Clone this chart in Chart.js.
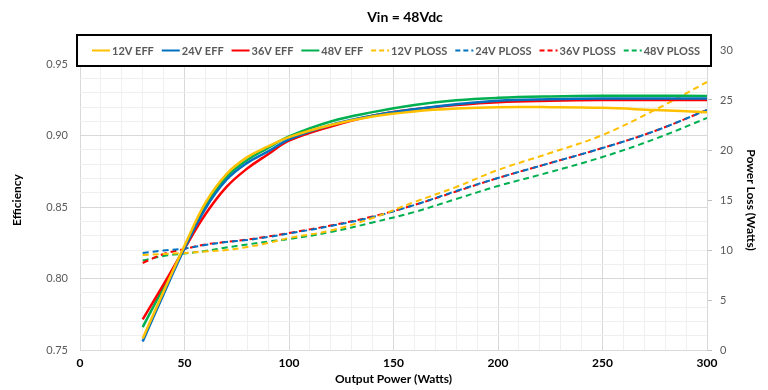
<!DOCTYPE html>
<html>
<head>
<meta charset="utf-8">
<script src="https://cdn.jsdelivr.net/npm/chart.js@4"></script>
<style>
  body { margin: 0; background: #fff; }
  canvas { display: block; }
</style>
</head>
<body>
<canvas id="effChart" width="768" height="390"></canvas>
<script>
// Output power (W) sample points
const outputPower = [30, 40, 50, 60, 70, 80, 90, 100, 120, 140, 160, 180, 200, 225, 250, 275, 300];

// Efficiency (left axis)
const eff12 = [0.758, 0.791, 0.823, 0.853, 0.873, 0.885, 0.8925, 0.899, 0.9075, 0.9135, 0.917, 0.919, 0.920, 0.920, 0.9195, 0.918, 0.9165];
const eff24 = [0.756, 0.789, 0.821, 0.849, 0.869, 0.881, 0.889, 0.8975, 0.9075, 0.914, 0.9185, 0.922, 0.9245, 0.9255, 0.926, 0.926, 0.926];
const eff36 = [0.7715, 0.796, 0.821, 0.845, 0.864, 0.877, 0.887, 0.8965, 0.9065, 0.914, 0.9185, 0.9215, 0.9235, 0.9245, 0.925, 0.925, 0.925];
const eff48 = [0.766, 0.794, 0.822, 0.851, 0.871, 0.883, 0.8915, 0.8995, 0.910, 0.9165, 0.9215, 0.9248, 0.9265, 0.9275, 0.928, 0.928, 0.9278];

// Power loss in watts (right axis)
const ploss12 = [9.5, 9.6, 9.7, 9.85, 10.0, 10.3, 10.7, 11.2, 11.95, 13.2, 14.8, 16.3, 18.0, 19.7, 21.5, 24.0, 26.8];
const ploss24 = [9.7, 9.95, 10.15, 10.5, 10.8, 11.0, 11.3, 11.65, 12.4, 13.3, 14.5, 15.9, 17.2, 18.7, 20.2, 21.9, 24.0];
const ploss36 = [8.7, 9.6, 10.1, 10.55, 10.8, 11.05, 11.35, 11.7, 12.45, 13.35, 14.5, 15.85, 17.2, 18.7, 20.2, 21.9, 24.0];
const ploss48 = [8.95, 9.4, 9.65, 9.9, 10.25, 10.55, 10.85, 11.1, 11.8, 12.75, 13.8, 15.1, 16.4, 17.8, 19.3, 21.1, 23.2];

const seriesColors = ['#FFC000', '#0070C0', '#FF0000', '#00B050'];
const fontName = 'Lato, "Open Sans", sans-serif';

const toPoints = arr => arr.map((v, i) => ({ x: outputPower[i], y: v }));

function effSet(label, data, color) {
  return {
    label, data: toPoints(data), yAxisID: 'yEff',
    borderColor: color, borderWidth: 2.5, pointRadius: 0,
    tension: 0.4, fill: false
  };
}
function lossSet(label, data, color) {
  return {
    label, data: toPoints(data), yAxisID: 'yLoss',
    borderColor: color, borderWidth: 2, borderDash: [6, 4], pointRadius: 0,
    tension: 0.4, fill: false
  };
}

const datasets = [
  effSet('12V EFF', eff12, seriesColors[0]),
  effSet('24V EFF', eff24, seriesColors[1]),
  effSet('36V EFF', eff36, seriesColors[2]),
  effSet('48V EFF', eff48, seriesColors[3]),
  lossSet('12V PLOSS', ploss12, seriesColors[0]),
  lossSet('24V PLOSS', ploss24, seriesColors[1]),
  lossSet('36V PLOSS', ploss36, seriesColors[2]),
  lossSet('48V PLOSS', ploss48, seriesColors[3])
];

// title + boxed legend drawn over the top of the plot, like the Excel original
const overlayPlugin = {
  id: 'overlay',
  afterDraw(chart) {
    const ctx = chart.ctx;
    ctx.save();
    ctx.fillStyle = '#000';
    ctx.font = 'bold 14px ' + fontName;
    ctx.textAlign = 'center';
    ctx.textBaseline = 'middle';
    ctx.fillText('Vin = 48Vdc', 405, 17);

    const box = { x: 77, y: 35, w: 634, h: 31 };
    ctx.fillStyle = '#fff';
    ctx.fillRect(box.x, box.y, box.w, box.h);
    ctx.strokeStyle = '#000';
    ctx.lineWidth = 2;
    ctx.strokeRect(box.x, box.y, box.w, box.h);

    ctx.font = 'bold 11px ' + fontName;
    ctx.textAlign = 'left';
    const sample = 18, gap = 2;
    const items = chart.data.datasets.map(d => ({
      d, w: sample + gap + ctx.measureText(d.label).width
    }));
    const left = 92, right = 700;
    const total = items.reduce((s, it) => s + it.w, 0);
    const space = (right - left - total) / (items.length - 1);
    let x = left;
    const cy = box.y + box.h / 2;
    items.forEach(it => {
      ctx.strokeStyle = it.d.borderColor;
      ctx.lineWidth = 2;
      ctx.setLineDash(it.d.borderDash ? [5, 3] : []);
      ctx.beginPath();
      ctx.moveTo(x, cy);
      ctx.lineTo(x + sample, cy);
      ctx.stroke();
      ctx.setLineDash([]);
      ctx.fillStyle = '#595959';
      ctx.fillText(it.d.label, x + sample + gap, cy + 1);
      x += it.w + space;
    });
    ctx.restore();
  }
};

const isMajorEff = v => Math.round(v * 100) % 5 === 0;

new Chart(document.getElementById('effChart'), {
  type: 'line',
  data: { datasets },
  options: {
    responsive: false,
    animation: false,
    layout: { padding: { top: 50, left: 0, right: 0, bottom: 0 } },
    plugins: { legend: { display: false }, title: { display: false }, tooltip: { enabled: false } },
    scales: {
      x: {
        type: 'linear', min: 0, max: 300,
        afterFit(scale) { scale.height = 40; },
        ticks: {
          stepSize: 10, autoSkip: false, maxRotation: 0, padding: 6,
          color: '#000', font: { family: fontName, size: 12, weight: 'bold' },
          callback: v => (v % 50 === 0 ? v : '')
        },
        grid: {
          drawTicks: false,
          color: c => (c.tick && c.tick.value % 50 === 0 ? '#d9d9d9' : '#f0f0f0')
        },
        border: { display: false },
        title: {
          display: true, text: 'Output Power (Watts)', color: '#000',
          font: { family: fontName, size: 12, weight: 'bold' }, padding: { top: 0, bottom: 4 }
        }
      },
      yEff: {
        type: 'linear', position: 'left', min: 0.75, max: 0.96,
        afterFit(scale) { scale.width = 80; },
        ticks: {
          stepSize: 0.01, autoSkip: false, padding: 12,
          color: '#595959', font: { family: fontName, size: 11 },
          callback: v => (isMajorEff(v) ? v.toFixed(2) : '')
        },
        grid: {
          drawTicks: false,
          color: c => (c.tick && isMajorEff(c.tick.value) ? '#d9d9d9' : '#efefef')
        },
        border: { display: false },
        title: {
          display: true, text: 'Efficiency', color: '#000',
          font: { family: fontName, size: 12, weight: 'bold' }, padding: { top: 10, bottom: 0 }
        }
      },
      yLoss: {
        type: 'linear', position: 'right', min: 0, max: 30,
        afterFit(scale) { scale.width = 61; },
        ticks: {
          stepSize: 5, padding: 8,
          color: '#595959', font: { family: fontName, size: 11 }
        },
        grid: { drawOnChartArea: false, tickLength: 5, color: '#bfbfbf' },
        border: { display: true, color: '#d9d9d9' },
        title: {
          display: true, text: 'Power Loss (Watts)', color: '#000',
          font: { family: fontName, size: 12, weight: 'bold' }, padding: { top: 10, bottom: 0 }
        }
      }
    }
  },
  plugins: [overlayPlugin]
});
</script>
</body>
</html>
